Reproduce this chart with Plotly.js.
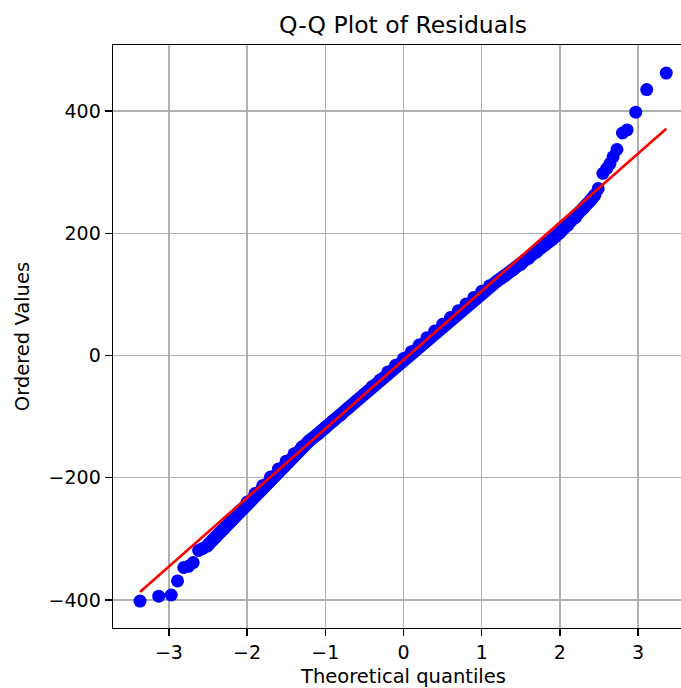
<!DOCTYPE html>
<html>
<head>
<meta charset="utf-8">
<script src="https://cdn.plot.ly/plotly-3.0.1.min.js"></script>
<style>
html, body { margin: 0; padding: 0; overflow: hidden; background: #fff; }
#chart { width: 700px; height: 688px; }
</style>
</head>
<body>
<div id="chart"></div>
<script>
// Lower tail: theoretical quantiles and ordered values (individual points)
const lowQuantiles = [-3.37, -3.13, -2.97, -2.89, -2.81, -2.75, -2.69, -2.62, -2.57, -2.51];
const lowValues    = [-402, -394, -392, -369, -347, -345, -339, -319, -316, -312];

// Dense middle body of the Q-Q plot (sampled along the band)
const midQuantiles = [-2.5, -2.4, -2.3, -2.2, -2.1, -2.0, -1.9, -1.8, -1.7, -1.6, -1.5, -1.4, -1.3, -1.2, -1.1, -1.0,
                      -0.9, -0.8, -0.7, -0.6, -0.5, -0.4, -0.3, -0.2, -0.1, 0.0, 0.1, 0.2, 0.3, 0.4, 0.5, 0.6, 0.7,
                      0.8, 0.9, 1.0, 1.1, 1.2, 1.3, 1.4, 1.5, 1.6, 1.7, 1.8, 1.9, 2.0, 2.1, 2.2, 2.3, 2.4, 2.45];
const midValues    = [-310, -297, -284, -270, -255, -240, -226, -213, -199, -186, -173, -161, -150, -139, -129, -118,
                      -107, -97, -85, -74, -63, -51, -40, -27, -16, -5, 6, 17, 29, 40, 51, 62, 73,
                      84, 95, 105, 114, 122, 131, 140, 149, 159, 169, 180, 190, 201, 213, 226, 241, 255, 263];

// Upper tail: individual points
const highQuantiles = [2.49, 2.55, 2.60, 2.64, 2.68, 2.73, 2.80, 2.86, 2.97, 3.11, 3.36];
const highValues    = [273, 298, 306, 314, 325, 337, 364, 369, 398, 435, 462];

// Least-squares fit line endpoints
const fitX = [-3.37, 3.36];
const fitY = [-387, 371];

const xTicks = [-3, -2, -1, 0, 1, 2, 3];
const yTicks = [-400, -200, 0, 200, 400];

const BLUE = '#0000ff';
const RED = '#ff0000';
const FONT = 'DejaVu Sans, sans-serif';

const traces = [
  {
    x: midQuantiles, y: midValues, type: 'scatter', mode: 'lines+markers',
    line: {color: BLUE, width: 13}, marker: {color: BLUE, size: 13},
    showlegend: false, hoverinfo: 'x+y'
  },
  {
    x: lowQuantiles.concat(highQuantiles), y: lowValues.concat(highValues),
    type: 'scatter', mode: 'markers', marker: {color: BLUE, size: 13},
    showlegend: false
  },
  {
    x: fitX, y: fitY, type: 'scatter', mode: 'lines',
    line: {color: RED, width: 2.6}, showlegend: false
  }
];

const axisCommon = {
  showline: true, linecolor: '#000', linewidth: 1.4, mirror: true,
  ticks: 'outside', ticklen: 7, tickwidth: 1.4, tickcolor: '#000',
  showgrid: true, gridcolor: '#b0b0b0', gridwidth: 1.4,
  zeroline: false, tickfont: {family: FONT, size: 19, color: '#000'}
};

const layout = {
  width: 700, height: 688,
  margin: {l: 113, r: 6, t: 45, b: 60},
  paper_bgcolor: '#fff', plot_bgcolor: '#fff',
  font: {family: FONT, color: '#000'},
  title: {text: 'Q-Q Plot of Residuals', font: {family: FONT, size: 23.5, color: '#000'},
          x: 403 / 700, xanchor: 'center', xref: 'container', y: 1 - 25 / 688, yanchor: 'middle', yref: 'container'},
  xaxis: Object.assign({}, axisCommon, {
    range: [-3.715, 3.715], tickvals: xTicks, ticktext: xTicks.map(v => (v < 0 ? '\u2212' + Math.abs(v) : String(v))),
    title: {text: 'Theoretical quantiles', font: {family: FONT, size: 19.5, color: '#000'}, standoff: 8}
  }),
  yaxis: Object.assign({}, axisCommon, {
    range: [-446, 508], tickvals: yTicks, ticktext: yTicks.map(v => (v < 0 ? '\u2212' + Math.abs(v) : String(v))),
    title: {text: 'Ordered Values', font: {family: FONT, size: 19.5, color: '#000'}, standoff: 13}
  })
};

Plotly.newPlot('chart', traces, layout, {displayModeBar: false, staticPlot: true});
</script>
</body>
</html>
